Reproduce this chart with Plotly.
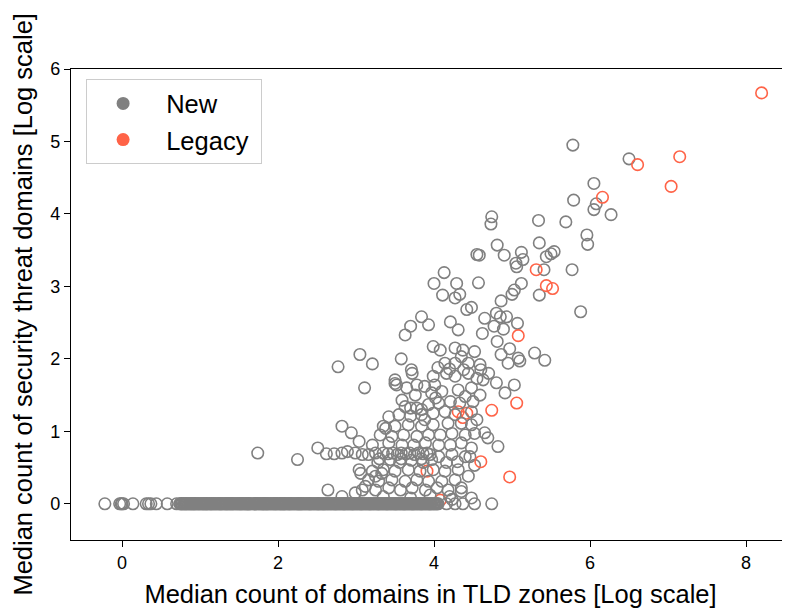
import plotly.graph_objects as go

# ---- data ----
# "New" TLDs lying on the y = 0 line (the band is very dense in the reference)
new_zero_x_a = [-0.22, -0.03, -0.01, 0.0, 0.02, 0.14, 0.31, 0.34, 0.37, 0.44, 0.58, 0.70,
                0.74, 0.77, 0.82, 0.84, 0.89, 0.92, 0.94, 0.99, 1.03, 1.05, 1.09, 1.13,
                1.15, 1.20, 1.24, 1.27, 1.31, 1.34, 1.39, 1.42, 1.45, 1.50, 1.53, 1.57,
                1.61, 1.63, 1.68, 1.72, 1.75, 1.79, 1.83, 1.86, 1.90, 1.94, 1.97, 2.01,
                2.04, 2.08, 2.12, 2.15, 2.19, 2.23, 2.27, 2.30, 2.34, 2.38, 2.41, 2.45,
                2.49, 2.52, 2.56, 2.59, 2.63, 2.67, 2.71, 2.74, 2.78, 2.82, 2.85, 2.89,
                2.93, 2.96, 3.00, 3.04, 3.07, 3.11, 3.15, 3.18, 3.22, 3.26, 3.29, 3.33,
                3.37, 3.40, 3.44, 3.48, 3.51, 3.55, 3.59, 3.62, 3.66, 3.70, 3.73, 3.77,
                3.81, 3.84, 3.88, 3.92, 3.95, 3.99, 4.03, 4.16, 4.27, 4.37, 4.52, 4.74]
new_zero_x_b = [0.752, 0.786, 0.828, 0.856, 0.901, 0.933, 0.957, 1.002, 1.041, 1.063, 1.102,
                1.141, 1.162, 1.212, 1.252, 1.281, 1.322, 1.353, 1.401, 1.432, 1.462, 1.512,
                1.542, 1.582, 1.622, 1.643, 1.692, 1.731, 1.762, 1.802, 1.842, 1.872, 1.912,
                1.951, 1.982, 2.022, 2.053, 2.092, 2.132, 2.163, 2.202, 2.242, 2.281, 2.312,
                2.352, 2.392, 2.421, 2.462, 2.502, 2.532, 2.571, 2.602, 2.642, 2.682, 2.722,
                2.752, 2.792, 2.832, 2.862, 2.902, 2.942, 2.972, 3.012, 3.052, 3.082, 3.122,
                3.162, 3.192, 3.232, 3.272, 3.302, 3.342, 3.382, 3.412, 3.452, 3.492, 3.522,
                3.562, 3.602, 3.632, 3.672, 3.712, 3.742, 3.782, 3.822, 3.852, 3.892, 3.932,
                3.962, 4.002, 4.041]
new_zero_x_c = [0.763, 0.798, 0.806, 0.868, 0.877, 0.912, 0.968, 0.981, 1.018, 1.074, 1.087,
                1.122, 1.176, 1.188, 1.228, 1.263, 1.296, 1.336, 1.368, 1.377, 1.414, 1.476,
                1.487, 1.524, 1.558, 1.594, 1.607, 1.654, 1.704, 1.717, 1.774, 1.812, 1.814,
                1.854, 1.884, 1.924, 1.963, 1.994, 2.033, 2.064, 2.074, 2.104, 2.144, 2.174,
                2.214, 2.254, 2.262, 2.293, 2.324, 2.364, 2.404, 2.434, 2.474, 2.514, 2.544,
                2.584, 2.614, 2.654, 2.693, 2.734, 2.764, 2.804, 2.844, 2.874, 2.914, 2.953,
                2.984, 3.024, 3.064, 3.094, 3.134, 3.174, 3.204, 3.244, 3.284, 3.314, 3.354,
                3.394, 3.424, 3.464, 3.504, 3.534, 3.574, 3.614, 3.644, 3.684, 3.724, 3.754,
                3.794, 3.834, 3.864, 3.904, 3.944, 3.974, 4.014, 4.053]

new_x = [5.78, 6.50, 6.05, 5.79, 6.08, 6.05, 6.27, 5.69, 5.96, 5.97,
         4.74, 4.73, 5.34, 4.81, 5.35, 4.55, 4.58, 4.90, 5.12, 5.14,
         5.05, 5.06, 5.44, 5.50, 5.54, 5.41, 5.77, 4.13, 4.00, 4.29,
         4.57, 5.12, 4.11, 4.33, 4.27, 5.03, 5.00, 5.35, 4.86, 5.88,
         4.42, 4.48, 3.84, 3.93, 4.80, 4.85, 4.93, 4.21, 4.31, 4.65,
         5.07, 4.77, 4.89, 4.62, 4.81, 3.99, 4.08, 4.27, 4.37, 4.52,
         4.35, 4.97, 4.86, 5.08, 5.29, 5.42, 4.14, 4.27, 4.44, 4.59,
         4.95, 5.10, 3.70, 3.63, 3.05, 3.21, 3.58, 2.77, 3.71, 3.72,
         3.11, 3.50, 3.52, 3.78, 3.76, 3.59, 3.70, 3.84, 1.74, 2.25,
         2.51, 2.62, 2.82, 2.94, 3.04, 2.64, 2.82, 2.99, 3.12, 3.06,
         3.25, 3.33, 3.38, 4.80, 5.03, 4.91, 4.65, 4.69, 4.82, 4.48,
         4.46, 4.35, 4.23, 3.50, 3.99, 4.01, 4.16, 4.27, 4.44, 4.55,
         4.63, 3.97, 4.10, 4.31, 4.48, 3.63, 3.78, 3.93, 4.06, 4.21,
         4.33, 4.50, 4.59, 3.55, 3.70, 3.84, 3.99, 4.14, 4.27, 4.48,
         4.55, 3.35, 3.50, 3.67, 3.84, 3.99, 4.18, 4.35, 4.48, 3.31,
         3.46, 3.61, 3.78, 3.93, 4.08, 4.23, 4.40, 4.52, 3.21, 3.42,
         3.59, 3.74, 3.89, 4.06, 4.21, 4.35, 4.06, 4.23, 4.40, 3.04,
         3.21, 3.35, 3.50, 3.67, 3.82, 3.99, 4.14, 4.31, 4.44, 3.16,
         3.29, 3.46, 3.63, 3.78, 3.93, 4.10, 4.27, 3.08, 3.25, 3.42,
         3.57, 3.72, 3.89, 4.04, 4.18, 4.35, 4.48, 3.35, 3.70, 3.95,
         4.20, 3.42, 3.88, 4.02, 4.40, 3.65, 3.88, 4.05, 4.20, 4.38,
         4.60, 4.70, 3.56, 3.86, 4.16, 3.28, 4.30, 4.52, 2.72, 2.82,
         2.89, 2.99, 3.08, 3.16, 3.25, 3.35, 3.41, 3.47, 3.53, 3.58,
         3.64, 3.69, 3.75, 3.80, 3.86, 3.91, 3.95, 3.30, 3.44, 3.58,
         3.71, 3.84, 3.97]

new_y = [4.95, 4.76, 4.42, 4.19, 4.14, 4.06, 3.99, 3.89, 3.71, 3.58,
         3.96, 3.86, 3.91, 3.57, 3.60, 3.44, 3.43, 3.43, 3.47, 3.37,
         3.32, 3.27, 3.41, 3.45, 3.48, 3.23, 3.23, 3.19, 3.04, 3.04,
         3.05, 3.04, 2.88, 2.89, 2.84, 2.95, 2.89, 2.88, 2.80, 2.65,
         2.68, 2.71, 2.58, 2.47, 2.63, 2.58, 2.58, 2.51, 2.40, 2.56,
         2.49, 2.45, 2.41, 2.35, 2.24, 2.17, 2.12, 2.15, 2.12, 2.10,
         2.03, 2.14, 2.06, 2.01, 2.08, 1.98, 1.94, 1.94, 1.94, 1.92,
         1.94, 1.97, 2.45, 2.33, 2.06, 1.93, 2.00, 1.89, 1.85, 1.80,
         1.60, 1.66, 1.64, 1.64, 1.50, 1.43, 1.32, 1.30, 0.70, 0.61,
         0.77, 0.69, 1.07, 0.98, 0.86, 0.19, 0.10, 0.15, 0.24, 0.42,
         0.38, 0.42, 1.04, 1.67, 1.64, 1.53, 0.98, 0.91, 0.79, 0.77,
         0.65, 0.17, 0.06, 1.71, 1.76, 1.64, 1.80, 1.76, 1.80, 1.73,
         1.71, 1.53, 1.55, 1.57, 1.60, 1.34, 1.32, 1.37, 1.39, 1.41,
         1.39, 1.41, 1.50, 1.23, 1.21, 1.23, 1.25, 1.27, 1.23, 1.27,
         1.16, 1.07, 1.07, 1.09, 1.07, 1.09, 1.11, 1.11, 1.09, 0.95,
         0.93, 0.95, 0.93, 0.95, 0.95, 0.97, 0.95, 0.97, 0.81, 0.84,
         0.81, 0.81, 0.84, 0.81, 0.81, 0.84, 0.65, 0.68, 0.65, 0.47,
         0.45, 0.47, 0.45, 0.47, 0.45, 0.47, 0.45, 0.47, 0.38, 0.33,
         0.31, 0.33, 0.31, 0.33, 0.31, 0.31, 0.33, 0.19, 0.19, 0.22,
         0.19, 0.22, 0.19, 0.22, 0.19, 0.22, 0.08, 0.10, 0.08, 0.12,
         0.10, 1.20, 1.16, 1.46, 1.48, 1.60, 1.62, 1.88, 1.86, 1.85,
         1.85, 1.80, 0.57, 0.57, 0.57, 0.57, 0.58, 0.53, 0.69, 0.70,
         0.72, 0.70, 0.68, 0.68, 0.70, 0.70, 0.69, 0.70, 0.68, 0.70,
         0.69, 0.70, 0.68, 0.70, 0.69, 0.70, 0.68, 0.62, 0.61, 0.62,
         0.60, 0.62, 0.61]

# "Legacy" TLDs
legacy_x = [8.20, 6.61, 7.15, 7.04, 6.16, 5.31, 5.44, 5.52, 5.08, 5.06, 4.74, 4.60, 4.97]
legacy_y = [5.67, 4.68, 4.79, 4.38, 4.23, 3.23, 3.01, 2.97, 2.32, 1.39, 1.29, 0.58, 0.37]
# Legacy points that sit underneath the dense cluster
legacy_hidden_x = [3.91, 4.08, 4.31, 4.42, 4.37]
legacy_hidden_y = [0.45, 0.05, 1.27, 1.25, 1.19]

x_ticks = [0, 2, 4, 6, 8]
y_ticks = [0, 1, 2, 3, 4, 5, 6]

GRAY = "#808080"
TOMATO = "#FF6347"
FONT = "Liberation Sans, Arial, sans-serif"

new_zero_x = new_zero_x_a + new_zero_x_b + new_zero_x_c
all_new_x = new_zero_x + new_x
all_new_y = [0.0] * len(new_zero_x) + new_y


def open_marker(c):
    return dict(symbol="circle-open", size=11.5, color=c, line=dict(width=1.6, color=c))


fig = go.Figure()
fig.add_trace(go.Scatter(x=legacy_hidden_x, y=legacy_hidden_y, mode="markers",
                         marker=open_marker(TOMATO), showlegend=False, hoverinfo="skip"))
fig.add_trace(go.Scatter(x=all_new_x, y=all_new_y, mode="markers",
                         marker=open_marker(GRAY), showlegend=False))
fig.add_trace(go.Scatter(x=legacy_x, y=legacy_y, mode="markers",
                         marker=open_marker(TOMATO), showlegend=False))
# legend entries (filled dots as in the reference)
fig.add_trace(go.Scatter(x=[None], y=[None], mode="markers", name="\u00a0New",
                         marker=dict(symbol="circle", size=13, color=GRAY)))
fig.add_trace(go.Scatter(x=[None], y=[None], mode="markers", name="\u00a0Legacy\u00a0",
                         marker=dict(symbol="circle", size=13, color=TOMATO)))

axis_common = dict(showgrid=False, zeroline=False, showline=True, linecolor="black",
                   linewidth=1.3, ticks="outside", ticklen=6, tickwidth=1.3,
                   tickcolor="black", automargin=False,
                   tickfont=dict(family=FONT, size=18, color="black"))

# the page body adds an 8px offset, so the figure is 8px smaller than the window
fig.update_layout(
    width=782, height=604,
    margin=dict(l=63, r=0, t=61, b=72),
    paper_bgcolor="white", plot_bgcolor="white",
    font=dict(family=FONT, color="black"),
    xaxis=dict(range=[-0.654, 8.564], tickvals=x_ticks, mirror=True,
               title=dict(text="Median count of domains in TLD zones [Log scale]",
                          font=dict(family=FONT, size=25.5, color="black"), standoff=13),
               **axis_common),
    yaxis=dict(range=[-0.5, 6], tickvals=y_ticks, **axis_common),
    legend=dict(x=0.021, y=0.978, xanchor="left", yanchor="top",
                bordercolor="#cccccc", borderwidth=1, bgcolor="rgba(255,255,255,0.8)",
                font=dict(family=FONT, size=25.5, color="black"),
                itemwidth=62, tracegroupgap=2),
    showlegend=True,
    annotations=[dict(text="Median count of security threat domains [Log scale]",
                      textangle=-90, xref="paper", yref="paper",
                      x=-0.068, y=0.5, xanchor="center", yanchor="middle",
                      showarrow=False,
                      font=dict(family=FONT, size=25.5, color="black"))],
)

fig.write_html("out.html")
